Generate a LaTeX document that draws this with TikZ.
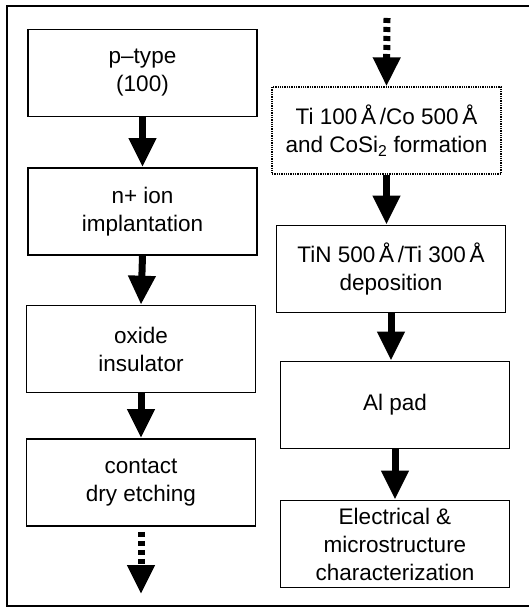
\documentclass[tikz,border=0pt]{standalone}
\usepackage{fontspec}
\setmainfont{Liberation Sans}
\usetikzlibrary{arrows.meta}
\begin{document}
\begin{tikzpicture}[x=1pt,y=-1pt,
  box/.style={draw, line width=1.6pt, align=center, inner sep=0pt,
    font=\fontsize{22.5}{28}\selectfont, minimum width=229pt, minimum height=87pt},
  dbox/.style={box, line width=1.3pt, densely dotted},
  arr/.style={line width=7pt, -{Triangle[length=29pt,width=26pt]}},
  darr/.style={arr, dash pattern=on 5pt off 4pt}]
\useasboundingbox (0,0) rectangle (529,612);
\clip (0,0) rectangle (529,612);
\draw[line width=2pt] (545,6) -- (7,6) -- (7,606) -- (545,606);
% left column
\node[box] (b1) at (142.5,73) {p--type\\(100)};
\node[box] (b2) at (142.5,211.5) {n+ ion\\implantation};
\node[box] (b3) at (141,349) {oxide\\insulator};
\node[box] (b4) at (141,482.5) {contact\\dry etching};
\coordinate (e1) at (141,594);
% right column
\coordinate (s2) at (387,18);
\node[dbox] (d1) at (386.5,130.5) {Ti 100\,Å\,/Co 500\,Å\\and CoSi\textsubscript{2} formation};
\node[box] (r2) at (391,269) {TiN 500\,Å\,/Ti 300\,Å\\deposition};
\node[box] (r3) at (395,405) {Al pad};
\node[box] (r4) at (395,544) {Electrical \&\\microstructure\\characterization};
% arrows
\draw[arr] (b1.south) -- (b2.north);
\draw[arr] (b2.south) -- (b3.north);
\draw[arr] (b3.south) -- (b4.north);
\draw[darr, shorten <=5pt] (b4.south) -- (e1);
\draw[darr] (s2) -- (d1.north);
\draw[arr] (d1.south) -- (d1.south |- r2.north);
\draw[arr] (r2.south) -- (r2.south |- r3.north);
\draw[arr] (r3.south) -- (r4.north);
\end{tikzpicture}
\end{document}
